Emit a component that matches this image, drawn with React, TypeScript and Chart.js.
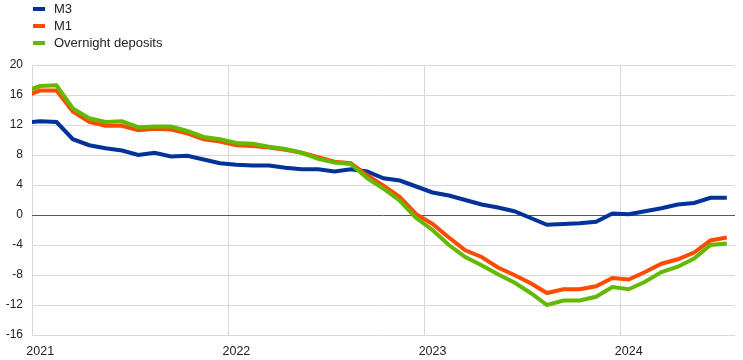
import React, { useEffect, useRef } from "react";
import { Chart, registerables } from "chart.js";

Chart.register(...registerables);

// Monthly observations, Dec 2020 – Jul 2024 (annual % changes)
const months = [
  "2020-12",
  "2021-01", "2021-02", "2021-03", "2021-04", "2021-05", "2021-06",
  "2021-07", "2021-08", "2021-09", "2021-10", "2021-11", "2021-12",
  "2022-01", "2022-02", "2022-03", "2022-04", "2022-05", "2022-06",
  "2022-07", "2022-08", "2022-09", "2022-10", "2022-11", "2022-12",
  "2023-01", "2023-02", "2023-03", "2023-04", "2023-05", "2023-06",
  "2023-07", "2023-08", "2023-09", "2023-10", "2023-11", "2023-12",
  "2024-01", "2024-02", "2024-03", "2024-04", "2024-05", "2024-06",
  "2024-07",
];

const m3 = [
  12.3,
  12.5, 12.4, 10.1, 9.3, 8.9, 8.6, 8.0, 8.3, 7.8, 7.9, 7.4, 6.9,
  6.7, 6.6, 6.6, 6.3, 6.1, 6.1, 5.8, 6.1, 5.8, 4.9, 4.6, 3.8,
  3.0, 2.6, 2.0, 1.4, 1.0, 0.5, -0.4, -1.3, -1.2, -1.1, -0.9, 0.2,
  0.1, 0.5, 0.9, 1.4, 1.6, 2.3, 2.3,
];

const m1 = [
  15.8,
  16.6, 16.6, 13.8, 12.4, 11.9, 11.9, 11.3, 11.5, 11.4, 10.9, 10.1, 9.8,
  9.3, 9.2, 9.0, 8.7, 8.3, 7.7, 7.1, 6.9, 5.3, 3.9, 2.4, 0.1,
  -1.2, -3.0, -4.7, -5.6, -7.0, -8.0, -9.1, -10.4, -9.9, -9.9, -9.5, -8.4,
  -8.6, -7.6, -6.5, -5.9, -5.0, -3.4, -3.0,
];

const overnight = [
  16.4,
  17.2, 17.3, 14.2, 12.9, 12.4, 12.5, 11.7, 11.8, 11.8, 11.2, 10.4, 10.1,
  9.6, 9.5, 9.1, 8.8, 8.3, 7.5, 7.0, 6.8, 4.9, 3.5, 1.9, -0.4,
  -2.0, -4.0, -5.6, -6.7, -7.9, -9.0, -10.4, -12.0, -11.4, -11.4, -10.9, -9.6,
  -9.9, -8.9, -7.6, -6.9, -5.8, -4.0, -3.8,
];

const yearTicks = [2021, 2022, 2023, 2024];
const yTicks = [-16, -12, -8, -4, 0, 4, 8, 12, 16, 20];
const seriesNames = ["M3", "M1", "Overnight deposits"];

const COLORS = ["#003299", "#ff4b00", "#65b800"];
const START_YEAR = 2021;
const END_MONTHS = 43; // axis runs to 1 Aug 2024

function monthPos(label: string): number {
  const [y, m] = label.split("-").map(Number);
  return (y - START_YEAR) * 12 + (m - 1) + 0.5;
}

function toPoints(values: number[]) {
  return values.map((v, i) => ({ x: monthPos(months[i]), y: v }));
}

if (typeof document !== "undefined") {
  document.body.style.margin = "0";
}

export default function App() {
  const canvasRef = useRef<HTMLCanvasElement | null>(null);

  useEffect(() => {
    document.body.style.margin = "0";
    const canvas = canvasRef.current;
    if (!canvas) return;
    const seriesValues = [m3, m1, overnight];
    const orders = [3, 2, 1];
    const chart = new Chart(canvas, {
      type: "line",
      data: {
        datasets: seriesValues.map((vals, i) => ({
          label: seriesNames[i],
          data: toPoints(vals),
          borderColor: COLORS[i],
          backgroundColor: COLORS[i],
          borderWidth: 4,
          pointRadius: 0,
          tension: 0,
          fill: false,
          order: orders[i],
        })),
      },
      options: {
        responsive: false,
        animation: false,
        layout: { padding: { top: 65, right: 8, left: 0, bottom: 0 } },
        plugins: {
          legend: { display: false },
          tooltip: { enabled: false },
        },
        scales: {
          x: {
            type: "linear",
            min: 0,
            max: END_MONTHS,
            afterBuildTicks: (axis: any) => {
              axis.ticks = yearTicks.map((y) => ({ value: (y - START_YEAR) * 12 }));
            },
            afterFit: (axis: any) => {
              axis.height = 25;
            },
            grid: {
              color: "#d9d9d9",
              lineWidth: 1,
              drawTicks: false,
            },
            border: { display: false },
            ticks: {
              autoSkip: false,
              maxRotation: 0,
              padding: 9,
              labelOffset: 8.2,
              color: "#222222",
              font: {
                family: "'Liberation Sans', Arial, sans-serif",
                size: 12.5,
              },
              callback: (value: any) => String(START_YEAR + Number(value) / 12),
            },
          },
          y: {
            min: -16,
            max: 20,
            afterBuildTicks: (axis: any) => {
              axis.ticks = yTicks.map((v) => ({ value: v }));
            },
            afterFit: (axis: any) => {
              axis.width = 32;
            },
            grid: {
              color: (ctx: any) => (ctx.tick && ctx.tick.value === 0 ? "#595959" : "#d9d9d9"),
              lineWidth: 1,
              drawTicks: false,
            },
            border: { display: false },
            ticks: {
              padding: 9,
              color: "#222222",
              font: {
                family: "'Liberation Sans', Arial, sans-serif",
                size: 12,
              },
            },
          },
        },
      },
    });
    return () => {
      chart.destroy();
    };
  }, []);

  return (
    <div style={{ position: "relative", width: 743, height: 360, background: "#ffffff" }}>
      <canvas ref={canvasRef} width={743} height={360} style={{ display: "block" }} />
      <div style={{ position: "absolute", left: 0, top: 0 }}>
        {seriesNames.map((name, i) => (
          <div
            key={name}
            style={{ display: "flex", alignItems: "center", height: 17 }}
          >
            <div style={{ marginLeft: 33, width: 12, height: 4, background: COLORS[i] }} />
            <div
              style={{
                marginLeft: 9,
                font: "13px 'Liberation Sans', Arial, sans-serif",
                color: "#222222",
                lineHeight: "17px",
                whiteSpace: "nowrap",
              }}
            >
              {name}
            </div>
          </div>
        ))}
      </div>
    </div>
  );
}
